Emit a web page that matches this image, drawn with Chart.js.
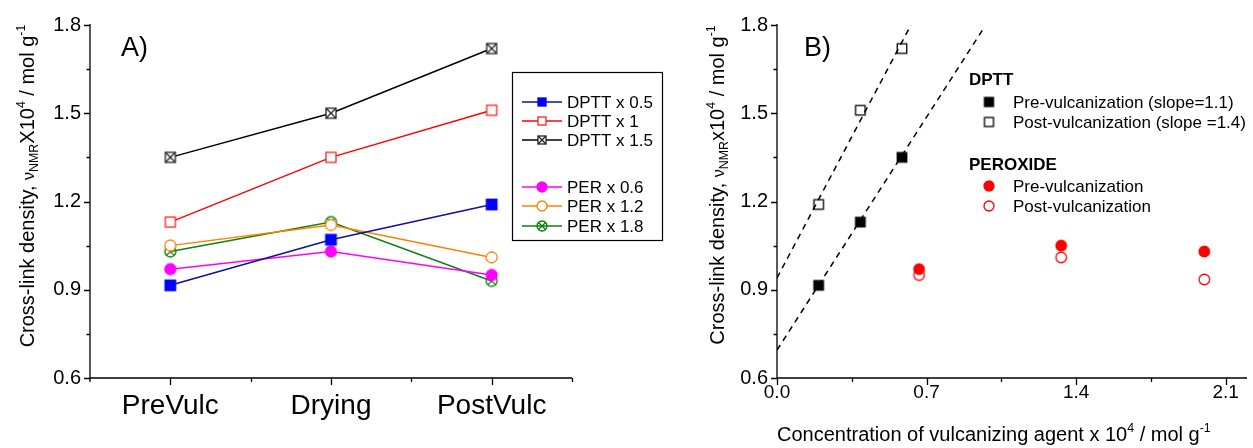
<!DOCTYPE html>
<html>
<head>
<meta charset="utf-8">
<script src="https://cdn.jsdelivr.net/npm/chart.js@4.4.1/dist/chart.umd.min.js"></script>
<style>
  html, body { margin: 0; padding: 0; background: #fff; }
  #wrap { position: relative; width: 1253px; height: 448px; overflow: hidden; }
  #graficoA { position: absolute; left: 0; top: 0; }
  #graficoB { position: absolute; left: 680px; top: 0; }
</style>
</head>
<body>
<div id="wrap">
  <canvas id="graficoA" width="680" height="448"></canvas>
  <canvas id="graficoB" width="573" height="448"></canvas>
</div>
<script>
// ---- dados do painel A ----
const etapas = ['PreVulc', 'Drying', 'PostVulc'];
const dptt05 = [0.915, 1.07, 1.19];
const dptt1 = [1.13, 1.35, 1.51];
const dptt15 = [1.35, 1.50, 1.72];
const per06 = [0.97, 1.03, 0.95];
const per12 = [1.05, 1.12, 1.01];
const per18 = [1.03, 1.13, 0.93];

// ---- dados do painel B ----
const concDptt = [0.195, 0.39, 0.585];
const dpttPre = [0.915, 1.13, 1.35];
const dpttPost = [1.19, 1.51, 1.72];
const concPer = [0.665, 1.33, 2.0];
const perPre = [0.97, 1.05, 1.03];
const perPost = [0.95, 1.01, 0.935];
const ajustePreX = [0, 0.968];
const ajustePreY = [0.695, 1.79];
const ajustePostX = [0, 0.627];
const ajustePostY = [0.94, 1.8];

// ---- ticks ----
const yTicks = [0.6, 0.75, 0.9, 1.05, 1.2, 1.35, 1.5, 1.65, 1.8];
const yTicksMaiores = [0.6, 0.9, 1.2, 1.5, 1.8];
const xTicksB = [0, 0.35, 0.7, 1.05, 1.4, 1.75, 2.1];
const xTicksMaioresB = [0, 0.7, 1.4, 2.1];

const FONTE = '"Liberation Sans", Arial, sans-serif';

function ehMaior(v, lista) {
  return lista.some(m => Math.abs(m - v) < 1e-6);
}

// desenha um marcador num canvas pequeno para usar como pointStyle
function marcador(tipo, d, cor, fundo) {
  const c = document.createElement('canvas');
  const s = Math.ceil(d + 4);
  c.width = s; c.height = s;
  const g = c.getContext('2d');
  const m = s / 2, r = d / 2;
  g.lineWidth = 1.3;
  g.strokeStyle = cor;
  g.fillStyle = fundo;
  if (tipo === 'quadrado' || tipo === 'quadradoX') {
    g.fillRect(m - r, m - r, d, d);
    g.strokeRect(m - r, m - r, d, d);
    if (tipo === 'quadradoX') {
      g.beginPath();
      g.moveTo(m - r, m - r); g.lineTo(m + r, m + r);
      g.moveTo(m + r, m - r); g.lineTo(m - r, m + r);
      g.stroke();
    }
  } else {
    g.beginPath();
    g.arc(m, m, r, 0, Math.PI * 2);
    g.fill();
    g.stroke();
    if (tipo === 'circuloX') {
      const k = r * Math.SQRT1_2;
      g.beginPath();
      g.moveTo(m - k, m - k); g.lineTo(m + k, m + k);
      g.moveTo(m + k, m - k); g.lineTo(m - k, m + k);
      g.stroke();
    }
  }
  return c;
}

// texto com sub/sobrescritos; segmentos: [texto, tipo] tipo: 'n','sub','sup','p'
function larguraRica(ctx, segs, tam) {
  let w = 0;
  segs.forEach(([t, tipo]) => {
    const f = tipo === 'n' ? tam : tam * (tipo === 'p' ? 0.8 : 0.62);
    ctx.font = f + 'px ' + FONTE;
    w += ctx.measureText(t).width;
  });
  return w;
}
function textoRico(ctx, segs, x, y, tam) {
  let px = x;
  ctx.textBaseline = 'alphabetic';
  ctx.textAlign = 'left';
  segs.forEach(([t, tipo]) => {
    let f = tam, dy = 0;
    if (tipo === 'sub') { f = tam * 0.62; dy = tam * 0.22; }
    if (tipo === 'sup') { f = tam * 0.62; dy = -tam * 0.45; }
    if (tipo === 'p') { f = tam * 0.8; }
    ctx.font = f + 'px ' + FONTE;
    ctx.fillText(t, px, y + dy);
    px += ctx.measureText(t).width;
  });
}
function tituloY(ctx, segs, xBase, yCentro, tam) {
  ctx.save();
  ctx.fillStyle = '#000';
  ctx.translate(xBase, yCentro);
  ctx.rotate(-Math.PI / 2);
  const w = larguraRica(ctx, segs, tam);
  textoRico(ctx, segs, -w / 2, 0, tam);
  ctx.restore();
}

// eixos e ticks desenhados à mão (maiores e menores)
function desenhaEixos(chart, ticksX) {
  const { ctx, chartArea: a, scales } = chart;
  ctx.save();
  ctx.strokeStyle = '#000';
  ctx.lineWidth = 1.3;
  ctx.beginPath();
  ctx.moveTo(a.left, a.top - 1);
  ctx.lineTo(a.left, a.bottom);
  ctx.lineTo(a.right, a.bottom);
  yTicks.forEach(v => {
    const py = Math.round(scales.y.getPixelForValue(v)) + 0.5;
    const len = ehMaior(v, yTicksMaiores) ? 6 : 3.5;
    ctx.moveTo(a.left, py);
    ctx.lineTo(a.left - len, py);
  });
  ticksX.forEach(([px, maior]) => {
    ctx.moveTo(px, a.bottom);
    ctx.lineTo(px, a.bottom + (maior ? 7 : 4));
  });
  ctx.stroke();
  ctx.restore();
}

// ---------------- Painel A ----------------
const coresA = {
  d05: ['#0000ff', '#10109a'],
  d1: ['#ff2020', '#ff0000'],
  d15: ['#222222', '#000000'],
  p06: ['#ff00ff', '#ff00ff'],
  p12: ['#ff8000', '#ff8000'],
  p18: ['#008000', '#108010']
};
const seriesA = [
  { label: 'DPTT x 0.5', data: dptt05, cor: coresA.d05, estilo: marcador('quadrado', 10.5, '#0000ff', '#0000ff'), leg: marcador('quadrado', 8, '#0000ff', '#0000ff') },
  { label: 'DPTT x 1', data: dptt1, cor: coresA.d1, estilo: marcador('quadrado', 10, '#ff2020', '#ffffff'), leg: marcador('quadrado', 8, '#ff2020', '#ffffff') },
  { label: 'DPTT x 1.5', data: dptt15, cor: coresA.d15, estilo: marcador('quadradoX', 10, '#222222', '#ffffff'), leg: marcador('quadradoX', 8, '#222222', '#ffffff') },
  { label: 'PER x 0.6', data: per06, cor: coresA.p06, estilo: marcador('circulo', 11, '#ff00ff', '#ff00ff'), leg: marcador('circulo', 10, '#ff00ff', '#ff00ff') },
  { label: 'PER x 1.2', data: per12, cor: coresA.p12, estilo: marcador('circulo', 11, '#ff8000', '#ffffff'), leg: marcador('circulo', 10, '#ff8000', '#ffffff') },
  { label: 'PER x 1.8', data: per18, cor: coresA.p18, estilo: marcador('circuloX', 11, '#008000', 'rgba(255,255,255,0)'), leg: marcador('circuloX', 10, '#008000', 'rgba(255,255,255,0)') }
];

const legendaA = {
  id: 'legendaA',
  afterDraw(chart) {
    const ctx = chart.ctx;
    const a = chart.chartArea;
    const sx = chart.scales.x;
    const marcas = [[a.left, false]];
    etapas.forEach((e, i) => {
      const p = sx.getPixelForValue(i);
      marcas.push([Math.round(p) + 0.5, true]);
      const q = i < etapas.length - 1 ? (p + sx.getPixelForValue(i + 1)) / 2 : a.right;
      marcas.push([Math.round(q) + 0.5, false]);
    });
    desenhaEixos(chart, marcas);

    ctx.save();
    // título do eixo y
    tituloY(ctx, [['Cross-link density, ', 'n'], ['ν', 'p'], ['NMR', 'sub'], ['X10', 'n'], ['4', 'sup'], [' / mol g', 'n'], ['-1', 'sup']], 34, 186, 20);
    // rótulo A)
    ctx.fillStyle = '#000';
    ctx.font = '27px ' + FONTE;
    ctx.textBaseline = 'alphabetic';
    ctx.fillText('A)', 121, 56);
    // caixa da legenda
    ctx.fillStyle = '#fff';
    ctx.fillRect(512, 72, 150, 168);
    ctx.strokeStyle = '#000';
    ctx.lineWidth = 1.2;
    ctx.strokeRect(512.5, 72.5, 150, 168);
    const ys = [102, 121, 140, 187, 206, 226];
    seriesA.forEach((s, i) => {
      const y = ys[i];
      ctx.strokeStyle = s.cor[1];
      ctx.lineWidth = 1.5;
      ctx.beginPath();
      ctx.moveTo(522, y); ctx.lineTo(562, y);
      ctx.stroke();
      ctx.drawImage(s.leg, 542 - s.leg.width / 2, y - s.leg.height / 2);
      ctx.fillStyle = '#000';
      ctx.font = '17px ' + FONTE;
      ctx.textBaseline = 'middle';
      ctx.fillText(s.label, 567, y + 1);
    });
    ctx.restore();
  }
};

new Chart(document.querySelector('#graficoA'), {
  type: 'line',
  data: {
    labels: etapas,
    datasets: seriesA.map(s => ({
      label: s.label,
      data: s.data,
      borderColor: s.cor[1],
      borderWidth: 1.5,
      pointStyle: s.estilo,
      pointRadius: 5,
      fill: false,
      tension: 0
    }))
  },
  options: {
    responsive: false,
    animation: false,
    layout: { padding: { top: 25, right: 108, left: 0, bottom: 0 } },
    plugins: { legend: { display: false }, tooltip: { enabled: false } },
    scales: {
      x: {
        type: 'category',
        offset: true,
        grid: { display: false, drawTicks: false },
        border: { display: false },
        ticks: { color: '#000', font: { family: FONTE, size: 28 }, padding: 11, maxRotation: 0, autoSkip: false },
        afterFit(s) { s.height = 70; }
      },
      y: {
        min: 0.6,
        max: 1.8,
        grid: { display: false, drawTicks: false },
        border: { display: false },
        afterBuildTicks(s) { s.ticks = yTicks.map(v => ({ value: v })); },
        ticks: {
          color: '#000',
          font: { family: FONTE, size: 20 },
          padding: 9,
          autoSkip: false,
          callback: v => ehMaior(v, yTicksMaiores) ? v.toFixed(1) : ''
        },
        afterFit(s) { s.width = 90; }
      }
    }
  },
  plugins: [legendaA]
});

// ---------------- Painel B ----------------
const pontos = (xs, ys) => xs.map((x, i) => ({ x: x, y: ys[i] }));

const legendaB = {
  id: 'legendaB',
  afterDraw(chart) {
    const sx = chart.scales.x;
    desenhaEixos(chart, xTicksB.map(v => [Math.round(sx.getPixelForValue(v)) + 0.5, ehMaior(v, xTicksMaioresB)]));
    const ctx = chart.ctx;
    ctx.save();
    tituloY(ctx, [['Cross-link density, ', 'n'], ['ν', 'p'], ['NMR', 'sub'], ['x10', 'n'], ['4', 'sup'], [' / mol g', 'n'], ['-1', 'sup']], 44, 185, 20);
    ctx.fillStyle = '#000';
    textoRico(ctx, [['Concentration of vulcanizing agent x 10', 'n'], ['4', 'sup'], [' / mol g', 'n'], ['-1', 'sup']], 97, 441, 20);
    ctx.font = '27px ' + FONTE;
    ctx.fillText('B)', 124, 56);
    // legenda
    ctx.font = 'bold 17px ' + FONTE;
    ctx.textBaseline = 'middle';
    ctx.fillText('DPTT', 289, 80);
    ctx.fillText('PEROXIDE', 289, 165);
    const itens = [
      [marcador('quadrado', 9, '#000', '#000'), 'Pre-vulcanization (slope=1.1)', 102],
      [marcador('quadrado', 9, '#000', '#fff'), 'Post-vulcanization (slope =1.4)', 122],
      [marcador('circulo', 10, '#ff0000', '#ff0000'), 'Pre-vulcanization', 186],
      [marcador('circulo', 10, '#ff0000', '#fff'), 'Post-vulcanization', 206]
    ];
    ctx.font = '17px ' + FONTE;
    itens.forEach(([img, txt, y]) => {
      ctx.drawImage(img, 309 - img.width / 2, y - img.height / 2);
      ctx.fillText(txt, 333, y + 1);
    });
    ctx.restore();
  }
};

new Chart(document.querySelector('#graficoB'), {
  type: 'scatter',
  data: {
    datasets: [
      { label: 'DPTT Pre', data: pontos(concDptt, dpttPre), pointStyle: marcador('quadrado', 9.5, '#000', '#000'), pointRadius: 5 },
      { label: 'DPTT Post', data: pontos(concDptt, dpttPost), pointStyle: marcador('quadrado', 9.5, '#000', 'rgba(255,255,255,0)'), pointRadius: 5 },
      { label: 'PER Pre', data: pontos(concPer, perPre), pointStyle: marcador('circulo', 10.5, '#ff0000', '#ff0000'), pointRadius: 5 },
      { label: 'PER Post', data: pontos(concPer, perPost), pointStyle: marcador('circulo', 10.5, '#ff0000', 'rgba(255,255,255,0)'), pointRadius: 5 },
      { label: 'Ajuste Post', data: pontos(ajustePostX, ajustePostY), showLine: true, borderColor: '#000', borderWidth: 1.5, borderDash: [6, 5], pointRadius: 0 },
      { label: 'Ajuste Pre', data: pontos(ajustePreX, ajustePreY), showLine: true, borderColor: '#000', borderWidth: 1.5, borderDash: [6, 5], pointRadius: 0 }
    ]
  },
  options: {
    responsive: false,
    animation: false,
    layout: { padding: { top: 25, right: 0, left: 0, bottom: 0 } },
    plugins: { legend: { display: false }, tooltip: { enabled: false } },
    scales: {
      x: {
        type: 'linear',
        min: 0,
        max: 2.2,
        grid: { display: false, drawTicks: false },
        border: { display: false },
        afterBuildTicks(s) { s.ticks = xTicksB.map(v => ({ value: v })); },
        ticks: {
          color: '#000',
          font: { family: FONTE, size: 19 },
          padding: 3,
          autoSkip: false,
          maxRotation: 0,
          callback: v => ehMaior(v, xTicksMaioresB) ? v.toFixed(1) : ''
        },
        afterFit(s) { s.height = 70; }
      },
      y: {
        min: 0.6,
        max: 1.8,
        grid: { display: false, drawTicks: false },
        border: { display: false },
        afterBuildTicks(s) { s.ticks = yTicks.map(v => ({ value: v })); },
        ticks: {
          color: '#000',
          font: { family: FONTE, size: 20 },
          padding: 9,
          autoSkip: false,
          callback: v => ehMaior(v, yTicksMaiores) ? v.toFixed(1) : ''
        },
        afterFit(s) { s.width = 97; }
      }
    }
  },
  plugins: [legendaB]
});
</script>
</body>
</html>
